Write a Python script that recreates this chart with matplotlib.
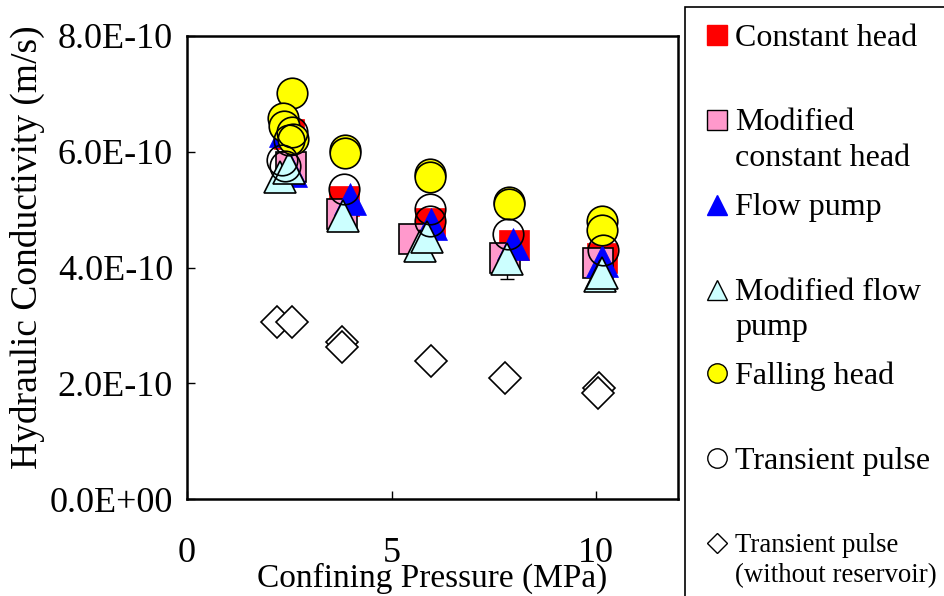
import matplotlib.pyplot as plt
import numpy as np
from matplotlib.lines import Line2D
from matplotlib.patches import Rectangle
from matplotlib.ticker import FuncFormatter

plt.rcParams['font.family'] = ['Liberation Serif', 'DejaVu Serif']

# confining pressure (MPa) and hydraulic conductivity (m/s) per method
const_head_p = [2.50, 3.84, 5.94, 7.98, 10.15]
const_head_k = [6.30e-10, 5.15e-10, 4.77e-10, 4.39e-10, 4.16e-10]

mod_const_head_p = [2.55, 3.79, 5.56, 7.78, 10.05]
mod_const_head_k = [5.73e-10, 4.92e-10, 4.50e-10, 4.16e-10, 4.08e-10]

flow_pump_p = [2.40, 2.54, 3.99, 5.96, 7.97, 10.14]
flow_pump_k = [6.36e-10, 5.67e-10, 5.18e-10, 4.76e-10, 4.40e-10, 4.11e-10]

mod_flow_pump_p = [2.27, 2.50, 3.81, 5.70, 5.86, 7.83, 10.09, 10.15]
mod_flow_pump_k = [5.56e-10, 5.72e-10, 4.89e-10, 4.37e-10, 4.52e-10, 4.15e-10, 3.86e-10, 3.91e-10]
mod_flow_pump_lower = [0, 0, 0, 0, 0, 0.35e-10, 0, 0]

falling_head_p = [2.56, 2.35, 2.37, 2.58, 3.86, 3.86, 5.94, 5.94, 7.88, 7.88, 10.14, 10.14]
falling_head_k = [7.01e-10, 6.59e-10, 6.44e-10, 6.22e-10, 6.03e-10, 5.97e-10, 5.61e-10, 5.57e-10,
                  5.13e-10, 5.10e-10, 4.81e-10, 4.64e-10]

transient_p = [2.56, 2.50, 2.32, 2.40, 3.84, 5.94, 5.94, 7.85, 10.16]
transient_k = [6.34e-10, 6.20e-10, 5.85e-10, 5.75e-10, 5.35e-10, 5.01e-10, 4.81e-10,
               4.58e-10, 4.30e-10]

no_res_p = [2.21, 2.56, 3.80, 3.80, 5.97, 7.77, 10.07, 10.05]
no_res_k = [3.05e-10, 3.05e-10, 2.72e-10, 2.63e-10, 2.38e-10, 2.09e-10, 1.91e-10, 1.83e-10]

x_ticks = [0, 5, 10]
y_ticks = [0, 2e-10, 4e-10, 6e-10, 8e-10]

fig = plt.figure(figsize=(9.44, 5.96), dpi=100)
ax = fig.add_axes([187 / 944, 97 / 596, 491 / 944, 463 / 596])

ms_box = 22
ax.plot(const_head_p, const_head_k, 's', ms=ms_box, mfc='#ff0000', mec='#ff0000', mew=0.5, zorder=3)
ax.plot(mod_const_head_p, mod_const_head_k, 's', ms=ms_box, mfc='#ff99cc', mec='black', mew=1.2, zorder=4)
ax.plot(flow_pump_p, flow_pump_k, '^', ms=23, mfc='#0000ff', mec='#0000ff', mew=0.5, zorder=5)
ax.errorbar(mod_flow_pump_p, mod_flow_pump_k, yerr=[mod_flow_pump_lower, [0] * len(mod_flow_pump_k)],
            fmt='none', ecolor='black', elinewidth=1, capsize=5, zorder=2)
ax.plot(mod_flow_pump_p, mod_flow_pump_k, '^', ms=23, mfc='#ccffff', mec='black', mew=1.2, zorder=6)
ax.plot(falling_head_p, falling_head_k, 'o', ms=22, mfc='#ffff00', mec='black', mew=1.2, zorder=7)
ax.plot(transient_p, transient_k, 'o', ms=22, mfc='none', mec='black', mew=1.2, zorder=8)
ax.plot(no_res_p, no_res_k, 'D', ms=15.8, mfc='white', mec='black', mew=1.2, zorder=8)

ax.set_xlim(0, 12)
ax.set_ylim(0, 8e-10)
ax.set_xticks(x_ticks)
ax.set_yticks(y_ticks)
ax.yaxis.set_major_formatter(FuncFormatter(lambda v, pos: '{:.1E}'.format(v)))
ax.tick_params(direction='in', length=6, width=1, labelsize=26)
ax.tick_params(axis='x', pad=27)
ax.tick_params(axis='y', pad=10)
for sp in ax.spines.values():
    sp.set_linewidth(1.8)

ax.set_xlabel('Confining Pressure (MPa)', fontsize=24, labelpad=-5)
ax.set_ylabel('Hydraulic Conductivity (m/s)', fontsize=27)
ax.yaxis.set_label_coords(-0.29, 0.544)

# legend panel on the right
fig.add_artist(Rectangle((685 / 944, -0.1), 0.5, (596 - 7) / 596 + 0.1, transform=fig.transFigure,
                         fill=False, edgecolor='black', linewidth=1.2))

entries = [
    ([35], 's', '#ff0000', '#ff0000', 14, ['Constant head'], 23),
    ([120, 155], 's', '#ff99cc', 'black', 14, ['Modified', 'constant head'], 23),
    ([205], '^', '#0000ff', '#0000ff', 14, ['Flow pump'], 23),
    ([290, 324], '^', '#ccffff', 'black', 14, ['Modified flow', 'pump'], 23),
    ([373], 'o', '#ffff00', 'black', 14, ['Falling head'], 23),
    ([458], 'o', 'white', 'black', 14, ['Transient pulse'], 23),
    ([543, 573], 'D', 'white', 'black', 10, ['Transient pulse', '(without reservoir)'], 19.3),
]
for rows, mk, fc, ec, size, lines, fs in entries:
    fig.add_artist(Line2D([717 / 944], [1 - rows[0] / 596], transform=fig.transFigure, marker=mk,
                          ms=size, mfc=fc, mec=ec, mew=1, linestyle='none'))
    for y_px, line in zip(rows, lines):
        fig.text(735 / 944, 1 - (y_px + 3) / 596, line, fontsize=fs, va='center', ha='left')

fig.savefig('out.png', dpi=100)
